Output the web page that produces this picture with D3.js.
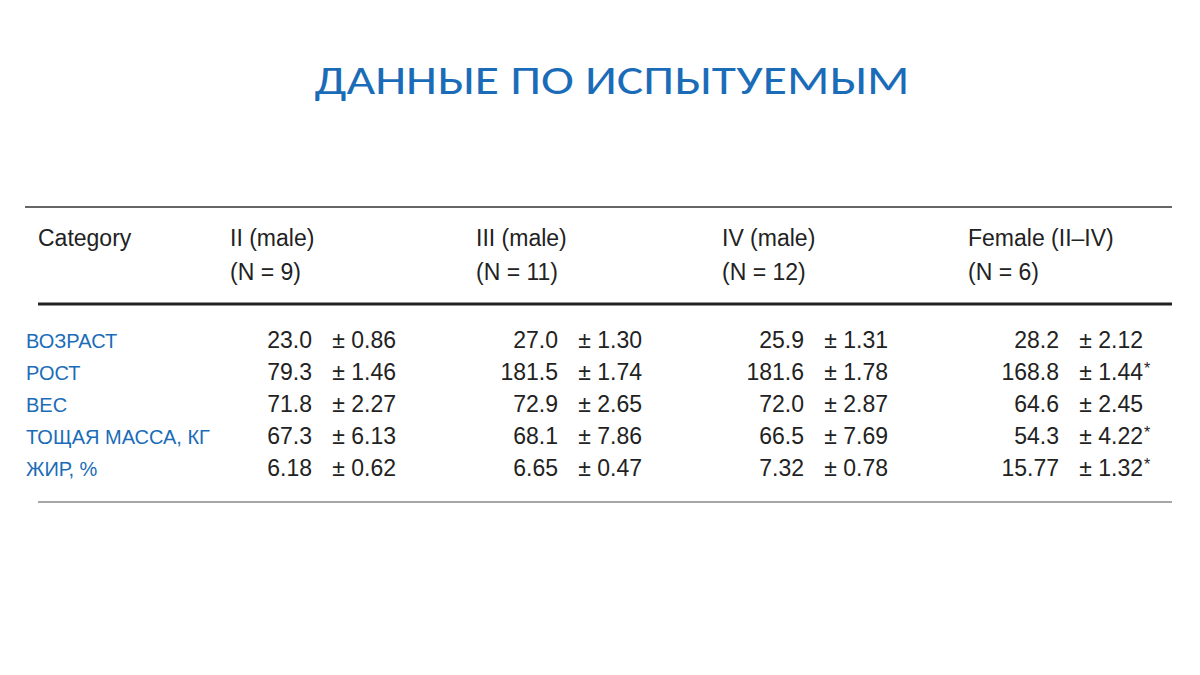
<!DOCTYPE html>
<html><head><meta charset="utf-8">
<script src="https://cdn.jsdelivr.net/npm/d3@7"></script>
<style>body{margin:0;background:#fff}</style>
</head><body><svg id="chart" width="1200" height="675"></svg>
<script>
const title = 'ДАННЫЕ ПО ИСПЫТУЕМЫМ';
const rowLabels = ['ВОЗРАСТ', 'РОСТ', 'ВЕС', 'ТОЩАЯ МАССА, КГ', 'ЖИР, %'];
const groups = ['II (male)', 'III (male)', 'IV (male)', 'Female (II–IV)'];
const groupN = ['(N = 9)', '(N = 11)', '(N = 12)', '(N = 6)'];
const means = [
  ['23.0', '27.0', '25.9', '28.2'],
  ['79.3', '181.5', '181.6', '168.8'],
  ['71.8', '72.9', '72.0', '64.6'],
  ['67.3', '68.1', '66.5', '54.3'],
  ['6.18', '6.65', '7.32', '15.77']
];
const sds = [
  ['0.86', '1.30', '1.31', '2.12'],
  ['1.46', '1.74', '1.78', '1.44'],
  ['2.27', '2.65', '2.87', '2.45'],
  ['6.13', '7.86', '7.69', '4.22'],
  ['0.62', '0.47', '0.78', '1.32']
];
const significant = [
  [false, false, false, false],
  [false, false, false, true],
  [false, false, false, false],
  [false, false, false, true],
  [false, false, false, true]
];

const svg = d3.select('#chart');
const blue = '#1a6cb8', ink = '#222';
const font = '"Liberation Sans", Arial, sans-serif';

svg.append('text').attr('x', 612).attr('y', 94).attr('text-anchor', 'middle')
  .attr('fill', blue).attr('font-family', 'Calibri, Carlito, "Open Sans", sans-serif')
  .attr('font-size', 42).attr('textLength', 595).attr('lengthAdjust', 'spacingAndGlyphs').text(title);

// column scale: index -> left edge of column header
const x = d3.scaleLinear().domain([0, 3]).range([230, 968]);
const y = d3.scalePoint().domain(d3.range(rowLabels.length)).range([340, 468]);

// rules
svg.append('line').attr('x1', 25).attr('x2', 1172).attr('y1', 207).attr('y2', 207).attr('stroke', '#333').attr('stroke-width', 1.5);
svg.append('line').attr('x1', 38).attr('x2', 1172).attr('y1', 304).attr('y2', 304).attr('stroke', '#222').attr('stroke-width', 3);
svg.append('line').attr('x1', 38).attr('x2', 1172).attr('y1', 502).attr('y2', 502).attr('stroke', '#888').attr('stroke-width', 1.5);

// header
svg.append('text').attr('x', 38).attr('y', 246).attr('font-family', font).attr('font-size', 23).attr('fill', ink).text('Category');
const hdr = svg.selectAll('g.hdr').data(groups).join('g').attr('class', 'hdr');
hdr.append('text').attr('x', (d, i) => x(i)).attr('y', 246).attr('font-family', font).attr('font-size', 23).attr('fill', ink).text(d => d);
hdr.append('text').attr('x', (d, i) => x(i)).attr('y', 280).attr('font-family', font).attr('font-size', 23).attr('fill', ink).text((d, i) => groupN[i]);

// row labels
svg.selectAll('text.rl').data(rowLabels).join('text').attr('class', 'rl')
  .attr('x', 26).attr('y', (d, i) => y(i) + 8).attr('font-family', font).attr('font-size', 20)
  .attr('fill', blue).text(d => d);

// cells
const cells = [];
means.forEach((row, r) => row.forEach((m, c) => cells.push({ r, c, m, s: sds[r][c], sig: significant[r][c] })));
const cg = svg.selectAll('g.cell').data(cells).join('g').attr('class', 'cell')
  .attr('transform', d => `translate(${x(d.c) + (d.c === 3 ? 9 : 0)},${y(d.r) + 8})`);
cg.append('text').attr('x', 82).attr('text-anchor', 'end').attr('font-family', font).attr('font-size', 23)
  .attr('fill', ink).text(d => d.m);
cg.append('text').attr('x', 166).attr('text-anchor', 'end').attr('font-family', font).attr('font-size', 23)
  .attr('fill', ink).text(d => '± ' + d.s);
cg.filter(d => d.sig).append('text').attr('x', 167).attr('y', -6).attr('font-family', font).attr('font-size', 16)
  .attr('fill', ink).text('*');
</script></body></html>
